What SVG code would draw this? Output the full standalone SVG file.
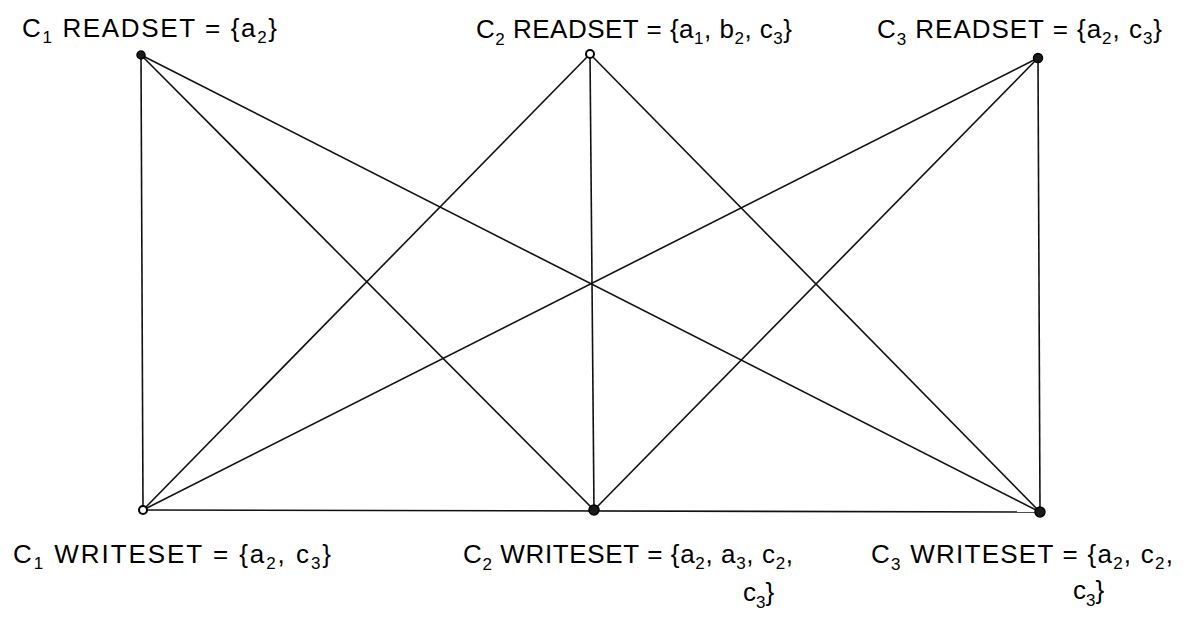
<svg xmlns="http://www.w3.org/2000/svg" width="1192" height="619" viewBox="0 0 1192 619">
<style>
.edge{stroke:#111;stroke-width:1.6;fill:none}
.node{fill:#1a1a1a;stroke:#000;stroke-width:1.5}
.hollow{fill:#fff;stroke:#000;stroke-width:2}
.lbl{font-family:"Liberation Sans",Arial,sans-serif;font-size:26px;fill:#000}
.sub{font-size:17px}
</style>
<rect width="1192" height="619" fill="#fff"/>
<g id="connectors">
<line class="edge" x1="141" y1="55" x2="143" y2="510"/>
<line class="edge" x1="141" y1="55" x2="594" y2="510"/>
<line class="edge" x1="141" y1="55" x2="1040" y2="512"/>
<line class="edge" x1="590" y1="54" x2="143" y2="510"/>
<line class="edge" x1="590" y1="54" x2="594" y2="510"/>
<line class="edge" x1="590" y1="54" x2="1040" y2="512"/>
<line class="edge" x1="1038" y1="58" x2="143" y2="510"/>
<line class="edge" x1="1038" y1="58" x2="594" y2="510"/>
<line class="edge" x1="1038" y1="58" x2="1040" y2="512"/>
<line class="edge" x1="143" y1="510" x2="1040" y2="512"/>
</g>
<g id="c1-readset">
<circle class="node" cx="141" cy="55" r="4"/>
<text class="lbl" x="22" y="37" textLength="255">C<tspan class="sub" dy="6">1</tspan><tspan dy="-6"> READSET = {a</tspan><tspan class="sub" dy="6">2</tspan><tspan dy="-6">}</tspan></text>
</g>
<g id="c2-readset">
<circle class="hollow" cx="590" cy="54" r="4"/>
<text class="lbl" x="476" y="38" textLength="316">C<tspan class="sub" dy="7">2</tspan><tspan dy="-7"> READSET = {a</tspan><tspan class="sub" dy="6">1</tspan><tspan dy="-6">, b</tspan><tspan class="sub" dy="6">2</tspan><tspan dy="-6">, c</tspan><tspan class="sub" dy="6">3</tspan><tspan dy="-6">}</tspan></text>
</g>
<g id="c3-readset">
<circle class="node" cx="1038" cy="58" r="4.5"/>
<text class="lbl" x="877" y="38" textLength="285">C<tspan class="sub" dy="7">3</tspan><tspan dy="-7"> READSET = {a</tspan><tspan class="sub" dy="6">2</tspan><tspan dy="-6">, c</tspan><tspan class="sub" dy="6">3</tspan><tspan dy="-6">}</tspan></text>
</g>
<g id="c1-writeset">
<circle class="hollow" cx="143" cy="510" r="4"/>
<text class="lbl" x="13" y="563" textLength="318">C<tspan class="sub" dy="6">1</tspan><tspan dy="-6"> WRITESET = {a</tspan><tspan class="sub" dy="6">2</tspan><tspan dy="-6">, c</tspan><tspan class="sub" dy="6">3</tspan><tspan dy="-6">}</tspan></text>
</g>
<g id="c2-writeset">
<circle class="node" cx="594" cy="510" r="5"/>
<text class="lbl" x="463" y="563" textLength="330">C<tspan class="sub" dy="7">2</tspan><tspan dy="-7"> WRITESET = {a</tspan><tspan class="sub" dy="6">2</tspan><tspan dy="-6">, a</tspan><tspan class="sub" dy="6">3</tspan><tspan dy="-6">, c</tspan><tspan class="sub" dy="6">2</tspan><tspan dy="-6">,</tspan></text>
<text class="lbl" x="743" y="601">c<tspan class="sub" dy="7">3</tspan><tspan dy="-7">}</tspan></text>
</g>
<g id="c3-writeset">
<circle class="node" cx="1040" cy="512" r="5"/>
<text class="lbl" x="871" y="563" textLength="302">C<tspan class="sub" dy="7">3</tspan><tspan dy="-7"> WRITESET = {a</tspan><tspan class="sub" dy="6">2</tspan><tspan dy="-6">, c</tspan><tspan class="sub" dy="6">2</tspan><tspan dy="-6">,</tspan></text>
<text class="lbl" x="1073" y="599">c<tspan class="sub" dy="7">3</tspan><tspan dy="-7">}</tspan></text>
</g>
</svg>
